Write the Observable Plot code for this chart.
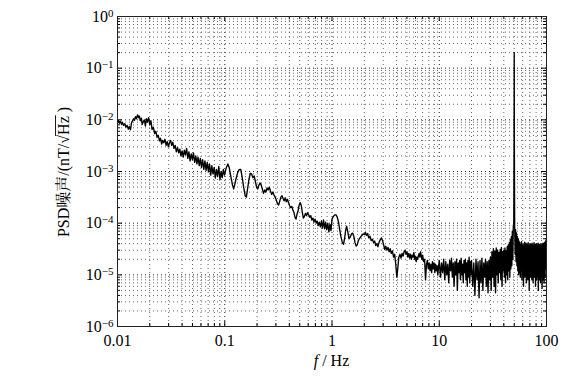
<!DOCTYPE html>
<html><head><meta charset="utf-8">
<script src="https://cdn.jsdelivr.net/npm/d3@7"></script>
<script src="https://cdn.jsdelivr.net/npm/@observablehq/plot@0.6"></script>
<style>
html,body{margin:0;padding:0;background:#fff;}
#chart{width:573px;height:380px;}
</style></head><body><div id="chart"></div>
<script>
const xTicks = [0.01, 0.1, 1, 10, 100];
const xTickLabels = ["0.01", "0.1", "1", "10", "100"];
const yTicks = [1e-6, 1e-5, 1e-4, 1e-3, 1e-2, 1e-1, 1];
const yExponents = ["\u22126", "\u22125", "\u22124", "\u22123", "\u22122", "\u22121", "0"];
const xMinor = [0.02,0.03,0.04,0.05,0.06,0.07,0.08,0.09, 0.2,0.3,0.4,0.5,0.6,0.7,0.8,0.9, 2,3,4,5,6,7,8,9, 20,30,40,50,60,70,80,90];
const yMinor = [2e-6,3e-6,4e-6,5e-6,6e-6,7e-6,8e-6,9e-6, 2e-5,3e-5,4e-5,5e-5,6e-5,7e-5,8e-5,9e-5, 2e-4,3e-4,4e-4,5e-4,6e-4,7e-4,8e-4,9e-4, 2e-3,3e-3,4e-3,5e-3,6e-3,7e-3,8e-3,9e-3, 0.02,0.03,0.04,0.05,0.06,0.07,0.08,0.09, 0.2,0.3,0.4,0.5,0.6,0.7,0.8,0.9];
const xLabelText = ["f", " / Hz"];
const yLabelText = ["PSD噪声/(nT/\u221A", "Hz", " )"];

// PSD trace, [frequency Hz, PSD nT/sqrt(Hz)]
const band001 = [
[0.0100,9.0e-3],[0.0102,9.8e-3],[0.0104,8.6e-3],[0.0106,9.4e-3],[0.0109,8.2e-3],[0.0111,9.0e-3],[0.0114,7.8e-3],[0.0117,8.4e-3],
[0.0120,7.2e-3],[0.0123,7.8e-3],[0.0126,6.6e-3],[0.0129,7.4e-3],[0.0132,6.4e-3],[0.0135,8.6e-3],[0.0138,9.6e-3],[0.0141,1.05e-2],
[0.0144,9.8e-3],[0.0147,1.15e-2],[0.0150,1.05e-2],[0.0154,1.25e-2],[0.0157,1.1e-2],[0.0160,1.18e-2],[0.0163,9.6e-3],[0.0167,1.08e-2],
[0.0170,8.2e-3],[0.0174,9.2e-3],[0.0178,1.0e-2],[0.0182,7.6e-3],[0.0186,1.05e-2],[0.0190,9.0e-3],[0.0195,1.1e-2],[0.0200,8.0e-3],
[0.0205,9.6e-3],[0.0210,6.5e-3],[0.0216,7.2e-3],[0.0222,5.4e-3],[0.0228,6.0e-3],[0.0234,4.6e-3],[0.0240,5.0e-3],[0.0246,3.9e-3],
[0.0252,4.4e-3],[0.0258,3.4e-3],[0.0264,4.0e-3],[0.0270,3.6e-3],[0.0277,4.2e-3],[0.0284,3.2e-3],[0.0291,3.8e-3],[0.0298,3.0e-3],
[0.0305,3.6e-3],[0.0313,4.0e-3],[0.0320,3.2e-3],[0.0328,3.7e-3],[0.0336,2.8e-3],[0.0345,3.2e-3],[0.0354,2.4e-3],[0.0363,2.9e-3],
[0.0372,2.3e-3],[0.0381,2.7e-3],[0.0390,2.0e-3],[0.0400,2.5e-3],[0.0410,1.9e-3],[0.0420,2.6e-3],[0.0430,2.1e-3],[0.0441,2.8e-3],
[0.0452,1.8e-3],[0.0463,2.4e-3],[0.0475,1.6e-3],[0.0487,2.2e-3],[0.0499,1.7e-3],[0.0511,2.3e-3],[0.0524,1.5e-3],[0.0537,2.0e-3],
[0.0550,1.4e-3],[0.0564,1.9e-3],[0.0578,1.3e-3],[0.0592,1.8e-3],[0.0607,1.2e-3],[0.0622,1.7e-3],[0.0638,1.1e-3],[0.0654,1.6e-3],
[0.0670,1.05e-3],[0.0687,1.5e-3],[0.0704,1.0e-3],[0.0722,1.4e-3],[0.0740,8.5e-4],[0.0758,1.3e-3],[0.0777,9.0e-4],[0.0797,1.2e-3],
[0.0817,7.5e-4],[0.0837,1.1e-3],[0.0858,8.0e-4],[0.0880,1.25e-3],[0.0902,7.0e-4],[0.0924,1.0e-3],[0.0947,7.6e-4],[0.0971,1.1e-3],
[0.0995,8.5e-4]
];
const band01 = [
[0.100,9.0e-4],[0.103,1.15e-3],[0.107,1.4e-3],[0.110,1.2e-3],[0.114,8.0e-4],[0.118,5.5e-4],[0.121,4.6e-4],[0.124,5.6e-4],
[0.128,7.5e-4],[0.132,9.5e-4],[0.136,1.08e-3],[0.141,1.1e-3],[0.145,8.0e-4],[0.150,5.0e-4],[0.155,3.4e-4],[0.159,3.2e-4],
[0.163,4.5e-4],[0.168,7.0e-4],[0.173,9.2e-4],[0.178,9.0e-4],[0.183,7.6e-4],[0.188,8.2e-4],[0.193,6.4e-4],[0.198,5.0e-4],
[0.203,4.6e-4],[0.208,5.4e-4],[0.213,6.0e-4],[0.218,5.6e-4],[0.224,4.6e-4],[0.230,3.8e-4],[0.236,4.4e-4],[0.242,4.0e-4],
[0.248,4.8e-4],[0.254,4.4e-4],[0.260,5.0e-4],[0.267,4.2e-4],[0.274,3.6e-4],[0.281,4.0e-4],[0.288,3.5e-4],[0.295,3.2e-4],
[0.302,2.8e-4],[0.310,2.4e-4],[0.318,2.25e-4],[0.326,2.7e-4],[0.334,3.2e-4],[0.342,3.4e-4],[0.350,3.0e-4],[0.358,2.7e-4],
[0.366,3.1e-4],[0.375,2.6e-4],[0.384,2.9e-4],[0.393,2.5e-4],[0.402,2.2e-4],[0.412,2.0e-4],[0.422,2.1e-4],[0.432,1.8e-4],
[0.442,1.6e-4],[0.452,1.3e-4],[0.462,1.2e-4],[0.472,1.5e-4],[0.482,1.7e-4],[0.493,2.2e-4],[0.505,2.5e-4],[0.517,2.2e-4],
[0.529,1.6e-4],[0.541,1.25e-4],[0.553,1.35e-4],[0.566,1.55e-4],[0.579,1.4e-4],[0.592,1.6e-4],[0.606,1.45e-4],[0.620,1.3e-4],
[0.634,1.4e-4],[0.649,1.15e-4],[0.664,1.25e-4],[0.679,1.05e-4],[0.695,1.2e-4],[0.711,1.0e-4],[0.727,1.1e-4],[0.744,9.0e-5],
[0.761,1.05e-4],[0.779,8.5e-5],[0.797,1.1e-4],[0.815,8.0e-5],[0.834,1.15e-4],[0.853,7.8e-5],[0.873,1.05e-4],[0.893,7.5e-5],
[0.914,1.0e-4],[0.935,6.8e-5],[0.957,9.5e-5],[0.979,7.2e-5]
];
const band1 = [
[1.00,1.2e-4],[1.03,1.35e-4],[1.06,1.45e-4],[1.09,1.45e-4],[1.12,1.3e-4],[1.15,1.05e-4],[1.18,7.5e-5],[1.21,5.5e-5],
[1.25,4.2e-5],[1.28,3.9e-5],[1.31,5.0e-5],[1.34,7.2e-5],[1.37,8.7e-5],[1.40,7.0e-5],[1.44,5.0e-5],[1.48,5.4e-5],
[1.52,6.2e-5],[1.56,6.4e-5],[1.60,5.5e-5],[1.64,4.2e-5],[1.68,3.6e-5],[1.72,3.8e-5],[1.76,4.6e-5],[1.80,5.0e-5],
[1.85,5.4e-5],[1.90,5.8e-5],[1.95,6.2e-5],[2.00,6.0e-5],[2.05,6.6e-5],[2.10,5.8e-5],[2.15,6.3e-5],[2.20,5.2e-5],
[2.26,5.6e-5],[2.32,4.6e-5],[2.38,4.9e-5],[2.44,4.2e-5],[2.50,4.5e-5],[2.56,3.7e-5],[2.62,4.0e-5],[2.68,3.5e-5],
[2.75,4.3e-5],[2.82,4.8e-5],[2.89,5.2e-5],[2.96,4.6e-5],[3.03,3.8e-5],[3.10,3.1e-5],[3.17,3.6e-5],[3.25,3.0e-5],
[3.33,3.4e-5],[3.41,2.8e-5],[3.49,3.2e-5],[3.57,2.6e-5],[3.66,2.9e-5],[3.75,2.2e-5],[3.84,2.5e-5],[3.93,1.6e-5],
[4.02,9.0e-6],[4.10,1.3e-5],[4.20,2.2e-5],[4.30,2.5e-5],[4.40,2.1e-5],[4.50,2.6e-5],[4.60,2.3e-5],[4.70,2.8e-5],
[4.80,3.0e-5],[4.90,2.5e-5],[5.00,2.8e-5],[5.10,2.2e-5],[5.20,2.6e-5],[5.30,2.1e-5],[5.40,2.5e-5],[5.50,2.0e-5],
[5.60,2.4e-5],[5.70,2.2e-5],[5.80,2.7e-5],[5.90,2.0e-5],[6.00,2.3e-5],[6.10,1.8e-5],[6.20,2.2e-5],[6.30,2.0e-5],
[6.40,2.4e-5],[6.50,2.6e-5],[6.60,2.2e-5],[6.70,2.8e-5],[6.80,2.3e-5],[6.90,2.0e-5],[7.00,2.4e-5],[7.15,1.8e-5],
[7.30,2.0e-5],[7.45,8.0e-6],[7.60,1.6e-5],[7.75,1.9e-5],[7.90,1.3e-5],[8.05,1.7e-5],[8.20,1.2e-5],[8.35,1.6e-5],
[8.50,1.1e-5],[8.65,1.8e-5],[8.80,1.3e-5],[8.95,1.7e-5],[9.10,1.1e-5],[9.25,1.6e-5],[9.40,1.2e-5],[9.55,1.5e-5],
[9.70,1.0e-5],[9.85,1.4e-5]
];
const band10 = [
[10.00,1.9e-5],[10.25,9e-6],[10.50,1.7e-5],[10.75,1.1e-5],[11.00,2.0e-5],[11.25,8e-6],[11.50,1.8e-5],[11.75,1.0e-5],
[12.00,1.6e-5],[12.25,7e-6],[12.50,1.9e-5],[12.75,1.2e-5],[13.00,2.1e-5],[13.25,9e-6],[13.50,1.7e-5],[13.75,6e-6],
[14.00,1.8e-5],[14.25,1.0e-5],[14.50,2.0e-5],[14.75,5e-6],[15.00,1.7e-5],[15.25,1.1e-5],[15.50,1.9e-5],[15.75,8e-6],
[16.00,2.1e-5],[16.25,1.0e-5],[16.50,1.6e-5],[16.75,7e-6],[17.00,1.9e-5],[17.25,1.1e-5],[17.50,2.0e-5],[17.75,8e-6],
[18.00,1.7e-5],[18.25,6e-6],[18.50,1.9e-5],[18.75,9e-6],[19.00,2.2e-5],[19.25,7e-6],[19.50,1.8e-5],[19.75,1.0e-5],
[20.0,1.9e-5],[20.5,6e-6],[21.0,1.7e-5],[21.5,4e-6],[22.0,2.0e-5],[22.5,8e-6],[23.0,1.8e-5],[23.5,3.6e-6],
[24.0,1.9e-5],[24.5,7e-6],[25.0,2.1e-5],[25.5,5e-6],[26.0,1.7e-5],[26.5,9e-6],[27.0,2.0e-5],[27.5,6e-6],
[28.0,1.8e-5],[28.5,4.5e-6],[29.0,1.9e-5],[29.5,8e-6],[30.0,2.2e-5],[30.5,5e-6],[31.0,2.8e-5],[31.5,9e-6],
[32.0,3.2e-5],[32.5,6e-6],[33.0,2.9e-5],[33.5,4.5e-6],[34.0,3.3e-5],[34.5,1.0e-5],[35.0,3.0e-5],[35.5,7e-6],
[36.0,2.7e-5],[36.5,1.1e-5],[37.0,3.1e-5],[37.5,8e-6],[38.0,3.4e-5],[38.5,6e-6],[39.0,2.8e-5],[39.5,1.2e-5],
[40.0,3.0e-5],[40.5,9e-6],[41.0,3.3e-5],[41.5,7e-6],[42.0,2.9e-5],[42.5,1.0e-5],[43.0,3.5e-5],[43.5,8e-6],
[44.0,3.8e-5],[44.5,1.2e-5],[45.0,4.2e-5],[45.5,9e-6],[46.0,4.8e-5],[46.5,1.3e-5],[47.0,5.5e-5],[47.5,1.5e-5],
[48.0,7.0e-5],[48.5,2.0e-5],[49.0,8.5e-5]
];
const spike50 = [[49.5,1.0e-4],[49.8,2.0e-3],[50.0,0.2],[50.2,2.0e-3],[50.5,9e-5]];
const band50 = [
[51.0,2.5e-5],[51.5,7.5e-5],[52.0,1.8e-5],[52.5,6.5e-5],[53.0,1.5e-5],[53.5,5.5e-5],[54.0,1.2e-5],[54.5,5.0e-5],
[55.0,1.0e-5],[55.5,4.5e-5],[56.0,1.1e-5],[56.5,4.2e-5],[57.0,9e-6],[57.5,3.8e-5],[58.0,1.2e-5],[58.5,4.4e-5],
[59.0,8e-6],[59.5,3.6e-5],[60.0,1.0e-5],[60.5,4.0e-5],[61.0,6e-6],[61.5,3.4e-5],[62.0,1.1e-5],[62.5,4.3e-5],
[63.0,9e-6],[63.5,3.7e-5],[64.0,1.3e-5],[64.5,4.1e-5],[65.0,7e-6],[65.5,3.5e-5],[66.0,1.0e-5],[66.5,3.9e-5],
[67.0,8e-6],[67.5,4.2e-5],[68.0,1.2e-5],[68.5,3.6e-5],[69.0,5e-6],[69.5,3.8e-5],[70.0,1.1e-5],[70.5,4.0e-5],
[71.0,9e-6],[71.5,3.5e-5],[72.0,1.3e-5],[72.5,3.9e-5],[73.0,8e-6],[73.5,4.1e-5],[74.0,1.0e-5],[74.5,3.6e-5],
[75.0,7e-6],[75.5,3.8e-5],[76.0,1.2e-5],[76.5,4.2e-5],[77.0,9e-6],[77.5,3.4e-5],[78.0,1.1e-5],[78.5,3.9e-5],
[79.0,6e-6],[79.5,3.7e-5],[80.0,1.0e-5],[80.5,4.0e-5],[81.0,8e-6],[81.5,3.5e-5],[82.0,1.2e-5],[82.5,3.8e-5],
[83.0,9e-6],[83.5,4.1e-5],[84.0,5e-6],[84.5,3.6e-5],[85.0,1.1e-5],[85.5,3.9e-5],[86.0,8e-6],[86.5,3.4e-5],
[87.0,1.0e-5],[87.5,3.7e-5],[88.0,7e-6],[88.5,4.0e-5],[89.0,1.2e-5],[89.5,3.5e-5],[90.0,9e-6],[90.5,3.8e-5],
[91.0,5.5e-6],[91.5,3.6e-5],[92.0,1.1e-5],[92.5,4.1e-5],[93.0,8e-6],[93.5,3.7e-5],[94.0,1.0e-5],[94.5,3.9e-5],
[95.0,7e-6],[95.5,4.2e-5],[96.0,1.2e-5],[96.5,3.8e-5],[97.0,9e-6],[97.5,4.4e-5],[98.0,1.3e-5],[98.5,4.6e-5],
[99.0,1.5e-5],[99.5,4.8e-5],[100.0,4.5e-5]
];
const trace = [...band001, ...band01, ...band1, ...band10, ...spike50, ...band50];

const FONT = '"Liberation Serif","Times New Roman","Noto Serif CJK SC","Noto Sans CJK SC",serif';
const innerH = 380 - 16 - 54, innerW = 573 - 117 - 27;

const chart = Plot.plot({
  width: 573, height: 380,
  marginLeft: 117, marginRight: 27, marginTop: 16, marginBottom: 54,
  x: {type: "log", domain: [0.01, 100]},
  y: {type: "log", domain: [1e-6, 1]},
  style: {fontFamily: FONT, fontSize: "16px", color: "#000", background: "#fff"},
  marks: [
    Plot.ruleX(xMinor, {x: d => d, stroke: "#666", strokeDasharray: "1,3"}),
    Plot.ruleX(xTicks.slice(1, -1), {x: d => d, stroke: "#222", strokeDasharray: "1,3"}),
    Plot.ruleY(yMinor, {y: d => d, stroke: "#666", strokeDasharray: "1,3"}),
    Plot.ruleY(yTicks.slice(1, -1), {y: d => d, stroke: "#222", strokeDasharray: "1,3"}),
    Plot.line(trace, {x: d => d[0], y: d => d[1], stroke: "#000", strokeWidth: 1.35}),
    Plot.tickX(xTicks, {x: d => d, insetTop: innerH - 5, stroke: "#000"}),
    Plot.tickX(xTicks, {x: d => d, insetBottom: innerH - 5, stroke: "#000"}),
    Plot.tickX(xMinor, {x: d => d, insetTop: innerH - 3, stroke: "#000"}),
    Plot.tickX(xMinor, {x: d => d, insetBottom: innerH - 3, stroke: "#000"}),
    Plot.tickY(yTicks, {y: d => d, insetRight: innerW - 5, stroke: "#000"}),
    Plot.tickY(yTicks, {y: d => d, insetLeft: innerW - 5, stroke: "#000"}),
    Plot.tickY(yMinor, {y: d => d, insetRight: innerW - 3, stroke: "#000"}),
    Plot.tickY(yMinor, {y: d => d, insetLeft: innerW - 3, stroke: "#000"}),
    Plot.frame({stroke: "#222"}),
    Plot.axisX(xTicks, {tickSize: 0, tickPadding: 8, label: null, tickFormat: d => xTickLabels[xTicks.indexOf(d)]}),
    Plot.axisY(yTicks, {tickSize: 0, tickPadding: 4, label: null, tickFormat: d => "10^" + yExponents[yTicks.indexOf(d)]})
  ]
});
document.getElementById("chart").appendChild(chart);

const svg = d3.select(chart);
// superscript exponents on the y tick labels
svg.selectAll('[aria-label="y-axis tick label"] text').each(function() {
  const t = this.textContent;
  const parts = t.split("^");
  if (parts.length !== 2) return;
  const el = d3.select(this);
  el.text(parts[0]);
  el.append("tspan").attr("dy", "-0.45em").style("font-size", "11px").text(parts[1]);
});

// y-axis title with radical overline
const yg = svg.append("g").attr("transform", "translate(63,172) rotate(-90)");
const yl = yg.append("text")
  .attr("text-anchor", "middle").attr("y", 5.5)
  .style("font-size", "16px").style("font-family", FONT);
const t0 = yl.append("tspan").text(yLabelText[0]);
const t1 = yl.append("tspan").text(yLabelText[1]);
const t2 = yl.append("tspan").text(yLabelText[2]);
const L0 = t0.node().getComputedTextLength();
const L1 = t1.node().getComputedTextLength();
const L2 = t2.node().getComputedTextLength();
const start = -(L0 + L1 + L2) / 2;
yg.append("line")
  .attr("x1", start + L0 - 1).attr("x2", start + L0 + L1 + 1)
  .attr("y1", -7.5).attr("y2", -7.5)
  .attr("stroke", "#000").attr("stroke-width", 0.9);

// x-axis title
const xl = svg.append("text")
  .attr("x", 331.5).attr("y", 366)
  .attr("text-anchor", "middle")
  .style("font-size", "16px").style("font-family", FONT);
xl.append("tspan").style("font-style", "italic").text(xLabelText[0]);
xl.append("tspan").text(xLabelText[1]);
</script>
</body></html>
